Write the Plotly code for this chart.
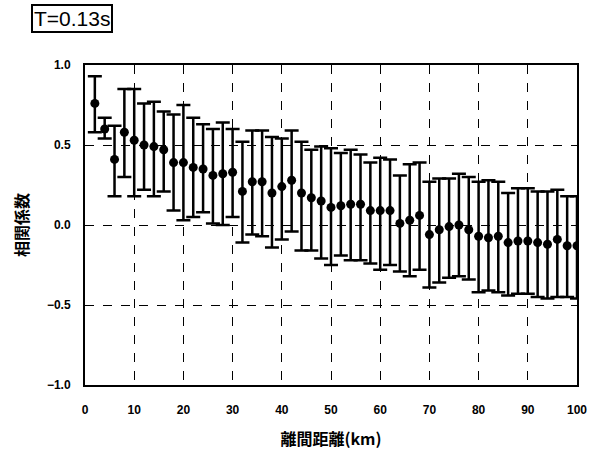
import plotly.graph_objects as go

distance_km = [2, 4, 6, 8, 10, 12, 14, 16, 18, 20, 22, 24, 26, 28, 30, 32, 34, 36, 38, 40,
               42, 44, 46, 48, 50, 52, 54, 56, 58, 60, 62, 64, 66, 68, 70, 72, 74, 76, 78, 80,
               82, 84, 86, 88, 90, 92, 94, 96, 98, 100]
mean_corr = [0.76, 0.60, 0.41, 0.58, 0.53, 0.50, 0.49, 0.47, 0.39, 0.39, 0.36, 0.35, 0.31, 0.32, 0.33,
             0.21, 0.27, 0.27, 0.20, 0.24, 0.28, 0.20, 0.17, 0.15, 0.11, 0.12, 0.13, 0.13, 0.09, 0.09,
             0.09, 0.01, 0.03, 0.06, -0.06, -0.03, -0.01, 0.00, -0.03, -0.07, -0.08, -0.07, -0.11,
             -0.10, -0.10, -0.11, -0.12, -0.09, -0.13, -0.13]
upper_corr = [0.93, 0.67, 0.62, 0.85, 0.85, 0.76, 0.77, 0.71, 0.69, 0.75, 0.67, 0.63, 0.60, 0.64, 0.60,
              0.52, 0.59, 0.59, 0.55, 0.54, 0.59, 0.52, 0.47, 0.49, 0.48, 0.45, 0.47, 0.44, 0.39, 0.42,
              0.41, 0.31, 0.38, 0.39, 0.27, 0.29, 0.29, 0.32, 0.30, 0.27, 0.28, 0.27, 0.20, 0.23, 0.23,
              0.21, 0.21, 0.22, 0.18, 0.18]
lower_corr = [0.58, 0.54, 0.18, 0.30, 0.18, 0.22, 0.18, 0.21, 0.09, 0.03, 0.05, 0.08, 0.01, 0.00, 0.05,
              -0.11, -0.06, -0.07, -0.14, -0.09, -0.04, -0.16, -0.16, -0.21, -0.25, -0.19, -0.22, -0.22,
              -0.24, -0.28, -0.25, -0.29, -0.32, -0.28, -0.39, -0.36, -0.33, -0.32, -0.34, -0.42, -0.41,
              -0.42, -0.44, -0.43, -0.43, -0.45, -0.46, -0.45, -0.45, -0.46]

x_ticks = [0, 10, 20, 30, 40, 50, 60, 70, 80, 90, 100]
y_ticks = [-1.0, -0.5, 0.0, 0.5, 1.0]

err_plus = [u - m for u, m in zip(upper_corr, mean_corr)]
err_minus = [m - l for m, l in zip(mean_corr, lower_corr)]

fig = go.Figure()
fig.add_trace(go.Scatter(
    x=distance_km, y=mean_corr, mode="markers",
    marker=dict(color="black", size=9, symbol="circle"),
    error_y=dict(type="data", symmetric=False, array=err_plus, arrayminus=err_minus,
                 color="black", thickness=2.5, width=7),
    showlegend=False,
))

tickfont = dict(family="Liberation Sans, Arial, sans-serif", size=12, color="black", weight="bold")

fig.update_layout(
    width=600, height=450,
    margin=dict(l=85, r=23, t=65, b=65),
    paper_bgcolor="white", plot_bgcolor="white",
    xaxis=dict(
        range=[0, 100], tickvals=x_ticks, ticks="", showgrid=True, automargin=False,
        gridcolor="black", gridwidth=1, griddash="dash",
        showline=True, linecolor="black", linewidth=2, mirror=True,
        tickfont=tickfont, ticklabelstandoff=13, zeroline=False,
        title=dict(text="離間距離(km)", standoff=23,
                   font=dict(family="Noto Sans CJK JP", size=16, color="black", weight="bold")),
    ),
    yaxis=dict(
        range=[-1, 1], tickvals=y_ticks, tickformat=".1f", ticks="", showgrid=True, automargin=False,
        gridcolor="black", gridwidth=1, griddash="dash",
        showline=True, linecolor="black", linewidth=2, mirror=True,
        tickfont=tickfont, ticklabelstandoff=10, zeroline=False,
        title=dict(text="相関係数", standoff=14,
                   font=dict(family="Noto Sans CJK JP", size=16, color="black", weight="bold")),
    ),
    annotations=[dict(
        text="T=0.13s", xref="paper", yref="paper", x=-0.026, y=1.144,
        xanchor="center", yanchor="middle", showarrow=False,
        font=dict(family="Liberation Sans, Arial, sans-serif", size=21, color="black"),
        bordercolor="black", borderwidth=2, borderpad=1, bgcolor="white",
    )],
)

fig.write_html("out.html")
